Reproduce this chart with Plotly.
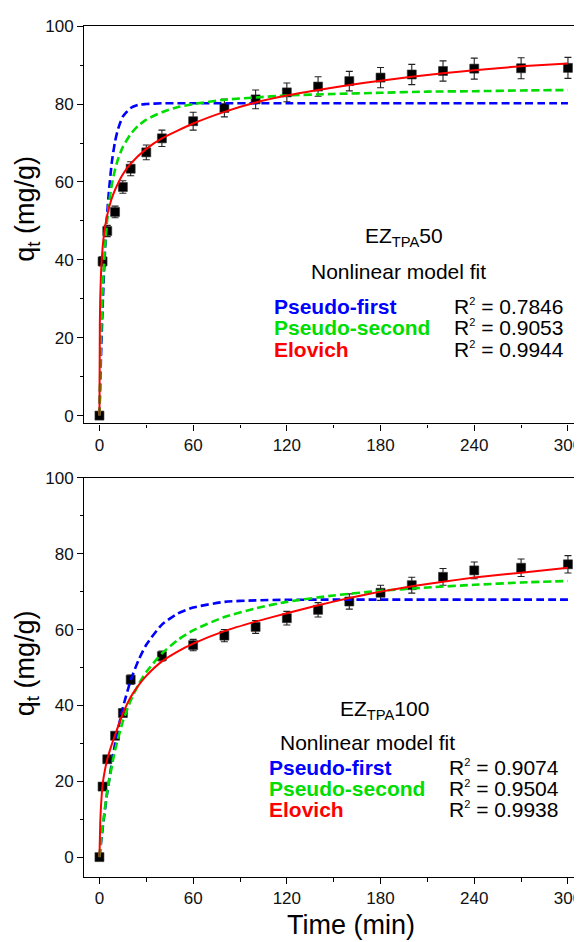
import plotly.graph_objects as go

W, H = 582, 942
OFF = 8  # page body margin: the figure is drawn 8px right and 8px down

# ---------------- data: EZ_TPA50 (top) ----------------
t_50 = [0, 2, 5, 10, 15, 20, 30, 40, 60, 80, 100, 120, 140, 160, 180, 200, 220, 240, 270, 300]
q_50 = [0, 39.6, 47.4, 52.3, 58.7, 63.4, 67.6, 71.2, 75.6, 79.0, 81.2, 83.0, 84.5, 85.9, 86.8, 87.6, 88.5, 89.1, 89.2, 89.3]
err_50 = [0, 1.2, 1.45, 1.5, 1.6, 1.8, 1.9, 2.1, 2.3, 2.3, 2.4, 2.4, 2.5, 2.5, 2.6, 2.6, 2.6, 2.7, 2.7, 2.7]

fit_t_50 = [0, 1, 2, 3, 4, 5, 6, 8, 10, 12, 15, 20, 25, 30, 40, 50, 60, 80, 100, 120, 150, 180, 210, 240, 270, 300]
pfo_50 = [0, 15.2, 27.5, 37.5, 45.6, 52.1, 57.4, 65.3, 70.4, 73.7, 76.8, 79.0, 79.8, 80.0, 80.2, 80.2, 80.2, 80.2, 80.2, 80.2, 80.2, 80.2, 80.2, 80.2, 80.2, 80.2]
pso_50 = [0, 19.4, 31.5, 39.8, 45.9, 50.5, 54.1, 59.5, 63.2, 66.0, 69.0, 72.3, 74.5, 76.0, 77.9, 79.2, 80.0, 81.1, 81.7, 82.2, 82.6, 82.9, 83.2, 83.3, 83.5, 83.6]
elo_t_50 = [0, 0.25, 0.5, 1, 1.5, 2, 3, 5, 7.5, 10, 15, 20, 30, 40, 60, 80, 100, 120, 140, 160, 180, 200, 220, 240, 270, 300]
elo_50 = [0, 23.5, 30.0, 36.5, 40.2, 43.0, 46.8, 51.5, 55.3, 58.0, 62.0, 64.7, 68.5, 71.2, 75.0, 78.0, 80.4, 82.2, 83.6, 84.9, 86.0, 87.0, 87.9, 88.7, 89.7, 90.4]

# ---------------- data: EZ_TPA100 (bottom) ----------------
t_100 = [0, 2, 5, 10, 15, 20, 40, 60, 80, 100, 120, 140, 160, 180, 200, 220, 240, 270, 300]
q_100 = [0, 18.6, 25.8, 32.0, 38.0, 46.8, 53.0, 55.9, 58.4, 60.7, 63.0, 65.2, 67.4, 69.7, 71.7, 73.9, 75.6, 76.3, 77.2]
err_100 = [0, 0.6, 0.8, 0.9, 1.0, 1.2, 1.3, 1.5, 1.6, 1.7, 1.8, 1.9, 2.0, 2.0, 2.1, 2.2, 2.2, 2.3, 2.3]

fit_t_100 = [0, 2, 5, 10, 15, 20, 25, 30, 40, 50, 60, 80, 100, 120, 150, 180, 210, 240, 270, 300]
pfo_100 = [0, 7.4, 17.1, 29.9, 39.4, 46.6, 51.9, 56.0, 61.3, 64.2, 65.8, 67.3, 67.7, 67.85, 67.9, 67.9, 67.9, 67.9, 67.9, 67.9]
pso_100 = [0, 8.0, 17.3, 28.2, 35.8, 41.3, 45.5, 48.8, 53.7, 57.2, 59.8, 63.3, 65.6, 67.3, 69.0, 70.2, 71.1, 71.8, 72.4, 72.8]
elo_t_100 = [0, 0.5, 1, 2, 3, 5, 7.5, 10, 15, 20, 25, 30, 40, 50, 60, 80, 100, 120, 140, 160, 180, 200, 220, 240, 270, 300]
elo_100 = [0, 9.0, 13.5, 19.0, 21.8, 25.8, 29.2, 32.2, 37.8, 42.2, 45.3, 47.8, 51.6, 54.2, 56.3, 59.6, 62.1, 64.3, 66.4, 68.3, 70.0, 71.4, 72.6, 73.7, 75.0, 76.3]

x_ticks = [0, 60, 120, 180, 240, 300]
y_ticks = [0, 20, 40, 60, 80, 100]

labels_50 = ["EZ<sub>TPA</sub>50", "Nonlinear model fit"]
labels_100 = ["EZ<sub>TPA</sub>100", "Nonlinear model fit"]
model_names = ["Pseudo-first", "Pseudo-second", "Elovich"]
r2_50 = ["0.7846", "0.9053", "0.9944"]
r2_100 = ["0.9074", "0.9504", "0.9938"]

# ---------------- styling ----------------
FONT = "Liberation Sans, Arial, sans-serif"
BLUE, GREEN, RED = "#0000FF", "#00DD00", "#FF0000"
model_colors = [BLUE, GREEN, RED]


def px(x):
    return (x - OFF) / W


def py(y):
    return 1 - (y - OFF) / H


fig = go.Figure()

panels = [
    dict(xa="x", ya="y", t=t_50, q=q_50, e=err_50, ft=fit_t_50, pfo=pfo_50, pso=pso_50, et=elo_t_50, elo=elo_50),
    dict(xa="x2", ya="y2", t=t_100, q=q_100, e=err_100, ft=fit_t_100, pfo=pfo_100, pso=pso_100, et=elo_t_100, elo=elo_100),
]

for p in panels:
    fig.add_trace(go.Scatter(
        x=p["t"], y=p["q"], mode="markers", xaxis=p["xa"], yaxis=p["ya"],
        marker=dict(symbol="square", size=9, color="#000000", line=dict(width=0.6, color="#333")),
        error_y=dict(type="data", array=p["e"], visible=True, color="#222", thickness=1.1, width=3.5),
        showlegend=False, cliponaxis=False))
    fig.add_trace(go.Scatter(
        x=p["ft"], y=p["pfo"], mode="lines", xaxis=p["xa"], yaxis=p["ya"],
        line=dict(color=BLUE, width=2.6, dash="8px,4px", shape="spline", smoothing=0.6),
        showlegend=False))
    fig.add_trace(go.Scatter(
        x=p["ft"], y=p["pso"], mode="lines", xaxis=p["xa"], yaxis=p["ya"],
        line=dict(color=GREEN, width=2.6, dash="8px,4px", shape="spline", smoothing=0.6),
        showlegend=False))
    fig.add_trace(go.Scatter(
        x=p["et"], y=p["elo"], mode="lines", xaxis=p["xa"], yaxis=p["ya"],
        line=dict(color=RED, width=2, shape="spline", smoothing=0.5),
        showlegend=False))

axis_common = dict(
    showline=True, linecolor="#000", linewidth=1.4,
    ticks="outside", ticklen=6, tickwidth=1.3, tickcolor="#000",
    showgrid=False, zeroline=False,
    tickfont=dict(family=FONT, size=17, color="#111"),
)
xdom = [px(84.3), px(582)]
xrange = [-9.7, 309]


def minor(dt):
    return dict(ticks="outside", ticklen=3.5, tickwidth=1.2, dtick=dt, tick0=0, tickcolor="#000")


fig.update_layout(
    width=W, height=H, margin=dict(l=0, r=0, t=0, b=0),
    paper_bgcolor="white", plot_bgcolor="white",
    xaxis=dict(domain=xdom, range=xrange, anchor="y", mirror=True, tickvals=x_ticks,
               minor=minor(30), **axis_common),
    yaxis=dict(domain=[py(419.3), py(17.3)], range=[-2.03, 100], anchor="x", tickvals=y_ticks,
               minor=minor(10), **axis_common),
    xaxis2=dict(domain=xdom, range=xrange, anchor="y2", mirror=True, tickvals=x_ticks,
                minor=minor(30), **axis_common),
    yaxis2=dict(domain=[py(878), py(474.3)], range=[-5.2, 100], anchor="x2", tickvals=y_ticks,
                minor=minor(10), **axis_common),
)

ann = []


def txt(text, x, y, size=21, color="#000", xanchor="center", angle=0):
    ann.append(dict(text=text, x=px(x), y=py(y), xref="paper", yref="paper",
                    xanchor=xanchor, yanchor="middle", showarrow=False, textangle=angle,
                    font=dict(family=FONT, size=size, color=color)))


R2 = "R<sup><span style='font-size:11px'>2</span></sup> = %s"

# top panel text
txt(labels_50[0], 404, 231, size=21)
txt(labels_50[1], 399, 266, size=21)
for i, (name, r2) in enumerate(zip(model_names, r2_50)):
    yy = 301 + i * 21.6
    txt("<b>%s</b>" % name, 272, yy, size=21, color=model_colors[i], xanchor="left")
    txt(R2 % r2, 452, yy, size=21, xanchor="left")

# bottom panel text
txt(labels_100[0], 384, 709, size=21)
txt(labels_100[1], 278, 742, size=21, xanchor="left")
for i, (name, r2) in enumerate(zip(model_names, r2_100)):
    yy = 767 + i * 21.6
    txt("<b>%s</b>" % name, 266.7, yy, size=21, color=model_colors[i], xanchor="left")
    txt(R2 % r2, 446.7, yy, size=21, xanchor="left")

# axis titles
txt("q<sub>t</sub> (mg/g)", 27, 202, size=27, angle=-90)
txt("q<sub>t</sub> (mg/g)", 27, 662, size=27, angle=-90)
txt("Time (min)", 351, 927, size=27)

fig.update_layout(annotations=ann)
fig.write_html("out.html")
